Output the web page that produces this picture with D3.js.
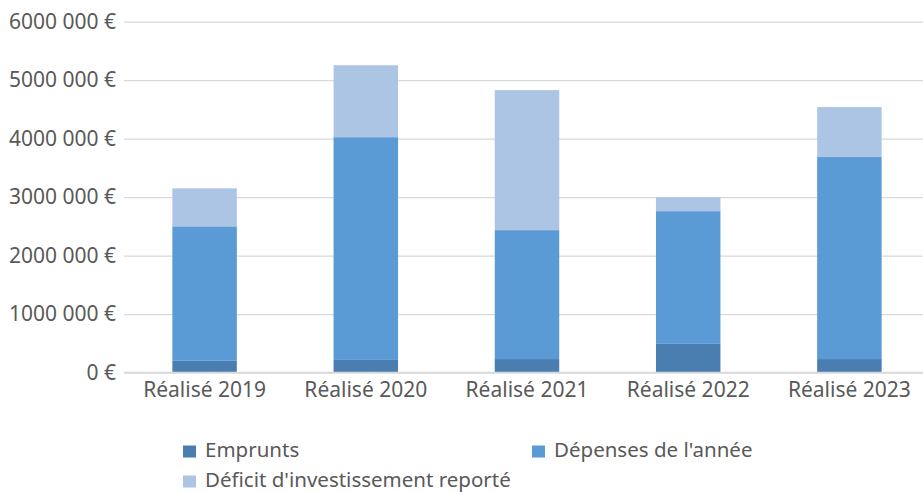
<!DOCTYPE html>
<html>
<head>
<meta charset="utf-8">
<script src="https://cdn.jsdelivr.net/npm/d3@7"></script>
<style>
  body { margin: 0; background: #fff; }
  text { font-family: "Noto Sans", sans-serif; fill: #595959; }
</style>
</head>
<body>
<svg id="chart" width="923" height="492"></svg>
<script>
// données
const categories = ["Réalisé 2019", "Réalisé 2020", "Réalisé 2021", "Réalisé 2022", "Réalisé 2023"];
const emprunts = [200000, 215000, 230000, 490000, 230000];
const depenses = [2300000, 3810000, 2205000, 2270000, 3455000];
const deficit = [650000, 1230000, 2395000, 240000, 855000];
const seriesNames = ["Emprunts", "Dépenses de l'année", "Déficit d'investissement reporté"];
const colors = ["#4a7eb0", "#5b9bd5", "#adc5e4"];
const yTicks = [0, 1000000, 2000000, 3000000, 4000000, 5000000, 6000000];

const svg = d3.select("#chart");

const x = d3.scaleBand().domain(categories).range([124, 930]).paddingInner(0.6).paddingOuter(0.3);
const y = d3.scaleLinear().domain([0, 6000000]).range([372.5, 21.7]);

// format "6000 000 €"
function fmt(v) {
  if (v === 0) return "0 €";
  const s = String(v);
  return s.slice(0, s.length - 3) + " " + s.slice(-3) + " €";
}

// grille
const yAxis = d3.axisLeft(y).tickValues(yTicks).tickSize(-(930 - 124)).tickFormat(fmt).tickPadding(8);
const gy = svg.append("g").attr("transform", "translate(124,0)").call(yAxis);
gy.select(".domain").remove();
gy.selectAll("line").attr("stroke", "#d9d9d9").attr("stroke-width", 1.3);
gy.selectAll("text").attr("font-size", 21).attr("x", -8);

// barres empilées
const rows = categories.map((c, i) => ({ cat: c, e: emprunts[i], d: depenses[i], f: deficit[i] }));
const stack = d3.stack().keys(["e", "d", "f"])(rows);

svg.append("g").selectAll("g")
  .data(stack)
  .enter().append("g")
  .attr("fill", (d, i) => colors[i])
  .selectAll("rect")
  .data(d => d)
  .enter().append("rect")
  .attr("x", d => x(d.data.cat))
  .attr("width", x.bandwidth())
  .attr("y", d => y(d[1]))
  .attr("height", d => y(d[0]) - y(d[1]));

// ligne de base au-dessus des barres
svg.append("line")
  .attr("x1", 124).attr("x2", 930)
  .attr("y1", y(0)).attr("y2", y(0))
  .attr("stroke", "#d9d9d9").attr("stroke-width", 1.3);

// axe des catégories
const xAxis = d3.axisBottom(x).tickSize(0).tickPadding(10);
const gx = svg.append("g").attr("transform", "translate(0," + y(0) + ")").call(xAxis);
gx.select(".domain").remove();
gx.selectAll("text").attr("font-size", 21);

// légende (position = ligne de base du texte)
const legendPos = [[183, 456.5], [532, 456.5], [183, 486.5]];
const legend = svg.append("g").selectAll("g")
  .data(seriesNames)
  .enter().append("g")
  .attr("transform", (d, i) => "translate(" + legendPos[i][0] + "," + legendPos[i][1] + ")");
legend.append("rect")
  .attr("x", 0).attr("y", -11)
  .attr("width", 13).attr("height", 12)
  .attr("fill", (d, i) => colors[i]);
legend.append("text")
  .attr("x", 22).attr("y", 0)
  .attr("font-size", 20.5)
  .text(d => d);
</script>
</body>
</html>
